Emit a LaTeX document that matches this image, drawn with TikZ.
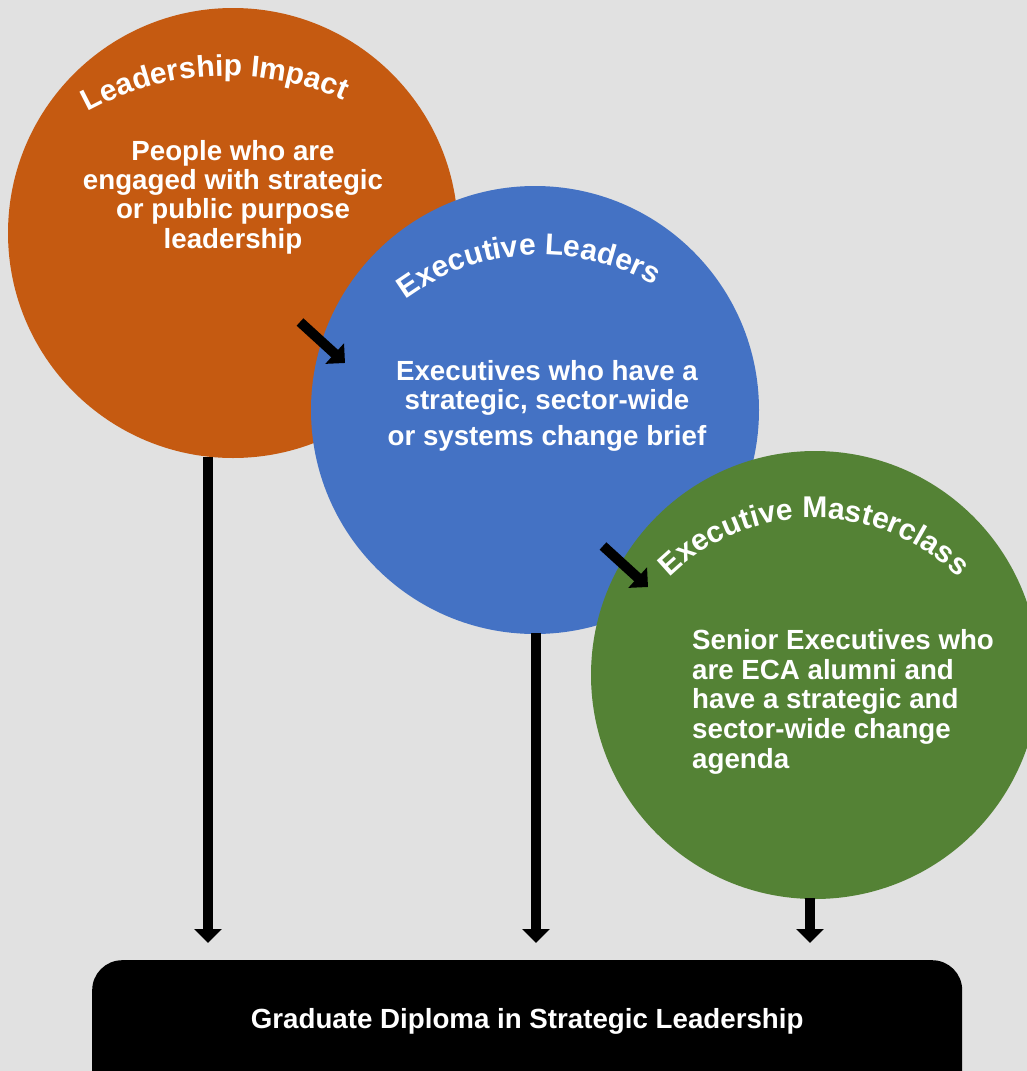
\documentclass[tikz,border=0pt]{standalone}
\usepackage{fontspec}
\setmainfont{Liberation Sans}
\usetikzlibrary{decorations.text,arrows.meta,calc}
\definecolor{bgc}{RGB}{225,225,225}
\definecolor{orangec}{RGB}{197,90,17}
\definecolor{bluec}{RGB}{68,114,196}
\definecolor{greenc}{RGB}{84,130,53}
\newcommand\arcfont{\fontsize{30}{36}\selectfont\bfseries}
\begin{document}
\begin{tikzpicture}[x=1pt,y=-1pt,
  bubble/.style={circle, inner sep=0pt, minimum size=450pt},
  body/.style={text=white, font=\fontsize{27.7}{29.3}\selectfont\bfseries, inner sep=0pt},
  flow/.style={line width=10pt, -{Triangle[width=27pt,length=14pt]}},
  arctext/.style={decorate, decoration={text along path, text align=center, text color=white}}]
\useasboundingbox (0,0) rectangle (1027,1071);
\clip (0,0) rectangle (1027,1071);
\fill[bgc] (0,0) rectangle (1027,1071);

% bottom box
\node[fill=black, rounded corners=30pt, minimum width=870pt, minimum height=140pt,
      anchor=north west, inner sep=0pt] (diploma) at (92,960) {};
\node[body, anchor=base] (diplomatext) at ($(diploma.north)+(0,68)$)
  {Graduate Diploma in Strategic Leadership};
\coordinate (arrEnd) at ($(diploma.north)+(0,-17)$);

% circles
\node[bubble, fill=orangec] (lead) at (233,233) {};
\node[bubble, fill=bluec, minimum size=448pt] (exec) at (535,410) {};
\node[bubble, fill=greenc, minimum size=448pt] (master) at (815,675) {};

% vertical arrows
\draw[flow] ([xshift=-25pt,yshift=1.6pt]lead.south) -- ([xshift=-25pt]lead.south |- arrEnd);
\draw[flow] ([xshift=1pt,yshift=1pt]exec.south) -- ([xshift=1pt]exec.south |- arrEnd);
\draw[flow] ([xshift=-5pt,yshift=1pt]master.south) -- ([xshift=-5pt]master.south |- arrEnd);

% diagonal arrows
\coordinate (d1s) at (300,322);
\coordinate (d1e) at (345,363);
\coordinate (d2s) at (603,546);
\coordinate (d2e) at (648,587);
\draw[flow] (d1s) -- (d1e);
\draw[flow] (d2s) -- (d2e);

% curved titles
\path[arctext, decoration={text={|\arcfont|Leadership Impact}}]
  (227,365) ++(227.5:289) arc[start angle=227.5, end angle=307.5, radius=289];
\path[arctext, decoration={text={|\arcfont|Executive Leaders}}]
  (541,484) ++(226.7:229) arc[start angle=226.7, end angle=306.7, radius=229];
\path[arctext, decoration={text={|\arcfont|Executive Masterclass}}]
  (814,723) ++(215:205) arc[start angle=215, end angle=325, radius=205];

% body texts
\node[body, align=center, anchor=north] (leadtext) at (233,140)
  {People who are\\engaged with strategic\\or public purpose\\leadership};
\node[body, align=center, anchor=north] (exectext) at (547,360)
  {Executives who have a\\strategic, sector-wide\\[7pt]or systems change brief};
\node[body, align=left, anchor=north west, font=\fontsize{27.7}{29.8}\selectfont\bfseries]
  (mastertext) at (692,629)
  {Senior Executives who\\are ECA alumni and\\have a strategic and\\sector-wide change\\agenda};
\end{tikzpicture}
\end{document}
